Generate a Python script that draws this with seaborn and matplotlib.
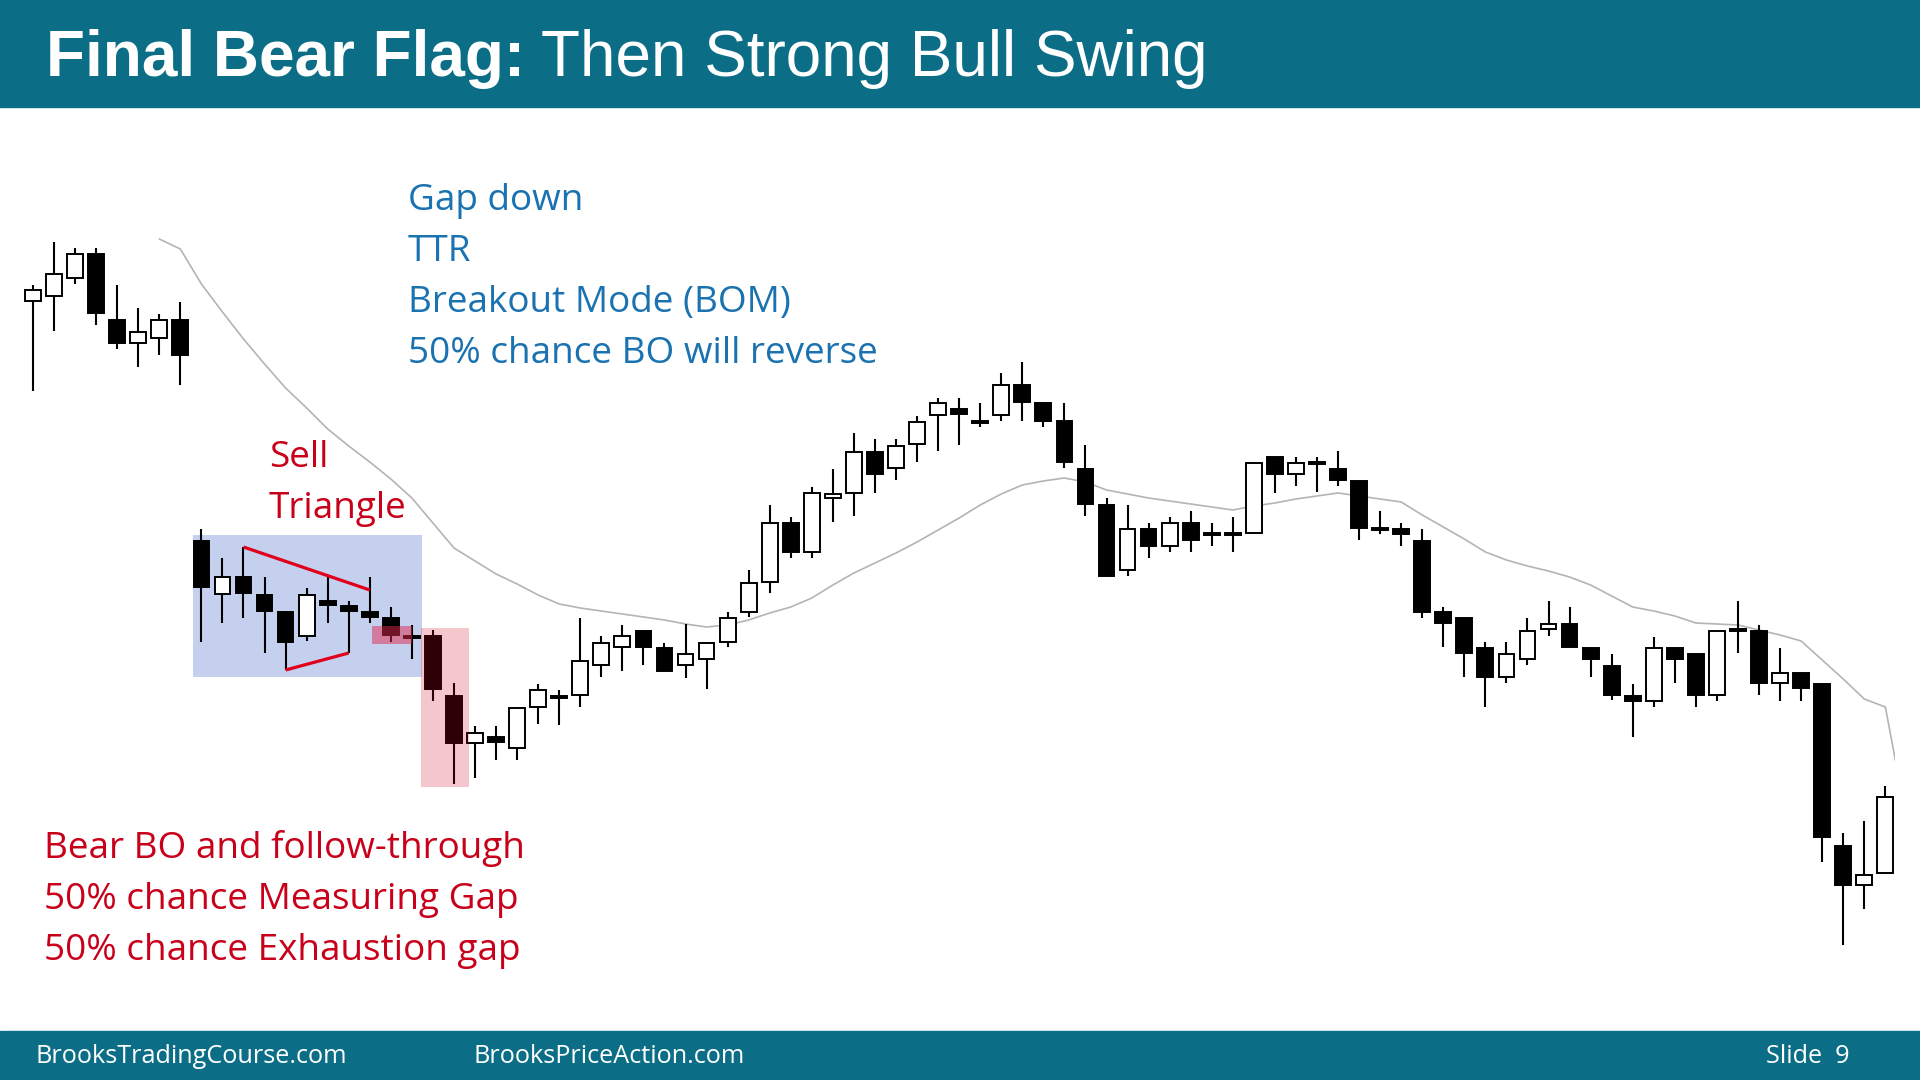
import numpy as np
import pandas as pd
import matplotlib
matplotlib.use("Agg")
import matplotlib.pyplot as plt
from matplotlib.patches import Rectangle
import seaborn as sns

# ----------------------------
# Data (price units, one entry per bar)
# ----------------------------
opens = [699, 704, 722, 746, 680, 657, 662, 680, 459, 406, 423, 405, 388, 364, 399,
         394, 388, 382, 363, 364, 304, 257, 263, 252, 293, 303, 305, 335, 353, 369,
         352, 335, 341, 358, 388, 418, 477, 448, 502, 507, 548, 532, 556, 585, 591,
         578, 585, 615, 597, 579, 531, 495, 430, 471, 454, 477, 466, 466, 467, 543,
         526, 537, 531, 519, 471, 471, 459, 388, 382, 352, 323, 341, 371, 376, 352,
         334, 304, 299, 352, 346, 305, 370, 369, 317, 327, 316, 154, 115, 127]
highs = [715, 758, 752, 752, 715, 692, 686, 698, 471, 442, 453, 423, 388, 412, 423,
         399, 423, 393, 375, 370, 317, 274, 274, 292, 316, 310, 382, 364, 375, 369,
         357, 376, 357, 388, 430, 495, 483, 513, 531, 567, 561, 561, 584, 602, 602,
         597, 627, 638, 597, 597, 555, 502, 495, 477, 483, 489, 477, 483, 537, 543,
         543, 543, 549, 519, 489, 477, 471, 393, 382, 358, 358, 382, 399, 393, 352,
         346, 316, 363, 352, 346, 369, 399, 375, 352, 327, 316, 167, 179, 214]
lows = [609, 669, 716, 675, 651, 633, 645, 615, 358, 377, 382, 347, 330, 359, 377,
        347, 377, 358, 341, 299, 216, 222, 240, 240, 276, 275, 293, 323, 329, 335,
        329, 322, 311, 353, 383, 407, 442, 442, 478, 484, 507, 520, 538, 549, 555,
        573, 579, 579, 573, 532, 484, 424, 424, 442, 448, 448, 454, 448, 467, 507,
        514, 508, 514, 460, 466, 454, 382, 353, 323, 293, 317, 335, 364, 353, 323,
        300, 263, 293, 317, 293, 299, 347, 305, 299, 299, 138, 55, 91, 127]
closes = [710, 726, 746, 687, 657, 668, 680, 645, 413, 423, 407, 389, 358, 405, 395,
          389, 383, 365, 363, 311, 257, 267, 258, 292, 310, 303, 339, 357, 364, 353,
          329, 346, 357, 382, 417, 477, 448, 507, 506, 548, 526, 554, 578, 597, 586,
          578, 615, 598, 579, 538, 496, 424, 471, 454, 477, 460, 466, 466, 537, 526,
          537, 537, 520, 472, 471, 466, 388, 377, 347, 323, 346, 369, 376, 353, 341,
          305, 299, 352, 341, 305, 369, 370, 317, 327, 312, 163, 115, 125, 203]

ma_start = 6
ma_values = [761, 751, 716, 688, 661, 636, 612, 592, 571, 554, 538, 521, 502, 477,
             452, 439, 426, 416, 405, 396, 392, 389, 386, 383, 380, 376, 373, 375,
             380, 387, 393, 402, 415, 427, 437, 447, 458, 470, 482, 495, 506, 515,
             519, 522, 518, 510, 506, 502, 499, 496, 493, 490, 494, 497, 501, 504,
             507, 504, 501, 498, 485, 473, 461, 448, 440, 434, 429, 423, 415, 404,
             393, 389, 384, 377, 376, 375, 370, 365, 359, 340, 321, 301, 293, 182]

# annotations: (bar, price) pairs and spans
triangle_top = [(10, 453), (16, 410)]
triangle_bottom = [(12, 330), (15, 347)]
blue_box = (7.6, 18.48, 323, 465)
red_box = (16.1, 18.0, 356, 374)
pink_box = (18.43, 20.71, 213, 372)

blue_notes = ["Gap down", "TTR", "Breakout Mode (BOM)", "50% chance BO will reverse"]
red_notes = ["Bear BO and follow-through", "50% chance Measuring Gap",
             "50% chance Exhaustion gap"]
sell_notes = ["Sell", "Triangle"]

TEAL = "#0c6e86"
BLUE_TXT = "#1a72b0"
RED_TXT = "#c8001a"

sns.set_theme(style="white")
plt.rcParams['font.family'] = ['Open Sans', 'DejaVu Sans']

W, H = 1920, 1080
fig = plt.figure(figsize=(19.2, 10.8), dpi=100)
fig.patch.set_facecolor("white")

# axes mapped so that one price unit = one pixel
ax = fig.add_axes([0, (H - 1030) / H, 1895 / W, (1030 - 108) / H])
ax.set_xlim(-1.568, 88.46)
ax.set_ylim(-30, 892)
ax.axis("off")

df = pd.DataFrame({"open": opens, "high": highs, "low": lows, "close": closes})
df["bar"] = np.arange(len(df))
body_h = np.maximum((df["close"] - df["open"]).abs(), 2.5)
body_bot = (df["open"] + df["close"]) / 2 - body_h / 2
up = df["close"] > df["open"]
fills = np.where(up, "white", "black")

# wicks and bodies
ax.vlines(df["bar"], df["low"], df["high"], color="black", linewidth=1.5, zorder=3)
ax.bar(df["bar"], body_h, bottom=body_bot, width=0.75, color=fills,
       edgecolor="black", linewidth=1.4, zorder=4)

# moving average
ma_df = pd.DataFrame({"bar": np.arange(ma_start, ma_start + len(ma_values)),
                      "ma": ma_values})
sns.lineplot(data=ma_df, x="bar", y="ma", ax=ax, color="#b4b4b4",
             linewidth=1.2, zorder=2)

# highlight boxes
x0, x1, y0, y1 = blue_box
ax.add_patch(Rectangle((x0, y0), x1 - x0, y1 - y0, color="#c5d0ee", zorder=1, lw=0))
x0, x1, y0, y1 = red_box
ax.add_patch(Rectangle((x0, y0), x1 - x0, y1 - y0, color=(0.88, 0.16, 0.30),
                       alpha=0.5, zorder=5, lw=0))
x0, x1, y0, y1 = pink_box
ax.add_patch(Rectangle((x0, y0), x1 - x0, y1 - y0, color=(0.80, 0.0, 0.08),
                       alpha=0.22, zorder=5, lw=0))

for seg in (triangle_top, triangle_bottom):
    ax.plot([p[0] for p in seg], [p[1] for p in seg], color="#e0001b",
            linewidth=2.3, zorder=6, solid_capstyle="butt")

# header / footer bars
fig.patches.append(Rectangle((0, 1 - 107 / H), 1, 107 / H, transform=fig.transFigure,
                             color=TEAL, zorder=0))
fig.patches.append(Rectangle((0, 0), 1, 49 / H, transform=fig.transFigure,
                             color=TEAL, zorder=0))


def ftext(px, py, s, **kw):
    return fig.text(px / W, 1 - py / H, s, va="baseline", **kw)


t1 = ftext(46, 76, "Final Bear Flag:", color="white", fontsize=46,
           fontweight="bold", family=["Liberation Sans"])
fig.canvas.draw()
bb = t1.get_window_extent()
ftext(bb.x1 + 16, 76, "Then Strong Bull Swing", color="white", fontsize=46,
      family=["Liberation Sans"])

for i, s in enumerate(blue_notes):
    ftext(408, 210 + 51 * i, s, color=BLUE_TXT, fontsize=26.6)
for i, s in enumerate(sell_notes):
    ftext(269, 467 + 51 * i, s, color=RED_TXT, fontsize=26.6)
for i, s in enumerate(red_notes):
    ftext(44, 858 + 51 * i, s, color=RED_TXT, fontsize=26.6)

ftext(36, 1063, "BrooksTradingCourse.com", color="white", fontsize=18.2)
ftext(474, 1063, "BrooksPriceAction.com", color="white", fontsize=18.2)
ftext(1766, 1063, "Slide  9", color="white", fontsize=18.2)

fig.savefig("out.png", dpi=100)
